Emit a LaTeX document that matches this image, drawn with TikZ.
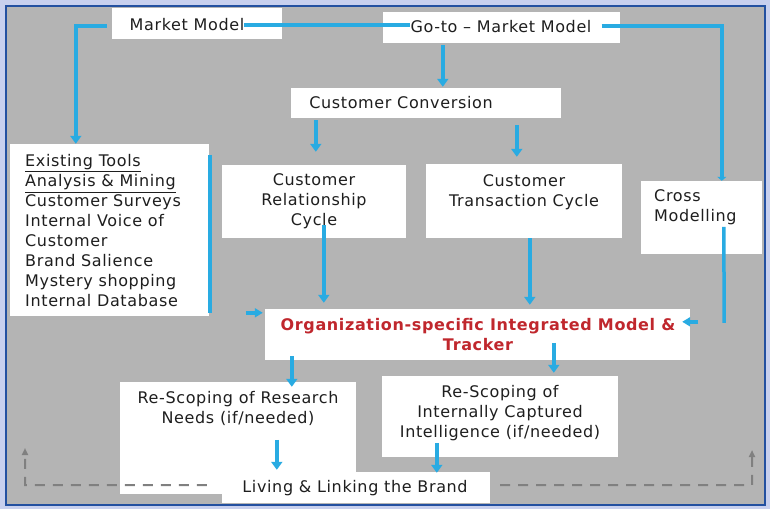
\documentclass[tikz,border=0pt]{standalone}
\usepackage{fontspec}
\setmainfont{DejaVu Sans}[LetterSpace=4]
\usetikzlibrary{arrows.meta,calc}
\definecolor{bgblue}{RGB}{200,208,238}
\definecolor{frameblue}{RGB}{35,80,160}
\definecolor{panelgray}{RGB}{180,180,180}
\definecolor{flow}{RGB}{41,171,226}
\definecolor{orgred}{RGB}{192,39,45}
\definecolor{txt}{RGB}{30,30,30}
\definecolor{dashgray}{RGB}{128,128,128}
\begin{document}
\begin{tikzpicture}[x=1pt,y=-1pt,
  box/.style={fill=white, draw=none, inner sep=0pt},
  lbl/.style={text=txt, inner sep=0pt, font=\fontsize{16}{20}\selectfont},
  flowline/.style={draw=flow, line width=3.5pt},
  flowarrow/.style={flowline, -{Triangle[width=11pt,length=8pt]}},
  smallarrow/.style={flowline, -{Triangle[width=9pt,length=8pt]}},
  back/.style={draw=dashgray, line width=2pt, dash pattern=on 10pt off 8pt},
  backtip/.style={-{Triangle[width=6pt,length=7pt]}},
]
% background and frame
\fill[bgblue] (0,0) rectangle (770,509);
\filldraw[fill=panelgray, draw=frameblue, line width=2.5pt] (6,6) rectangle (765,505);
\useasboundingbox (0,0) rectangle (770,509);

% boxes
\node[box, minimum width=170pt, minimum height=31pt] (mm)  at (197,23.5) {};
\node[box, minimum width=237pt, minimum height=31pt] (gtm) at (501.5,27.5) {};
\node[box, minimum width=270pt, minimum height=30pt] (cc)  at (426,103) {};
\node[box, minimum width=199pt, minimum height=172pt] (et) at (109.5,230) {};
\node[box, minimum width=184pt, minimum height=73pt] (crc) at (314,201.5) {};
\node[box, minimum width=196pt, minimum height=74pt] (ctc) at (524,201) {};
\node[box, minimum width=121pt, minimum height=73pt] (cm)  at (701.5,217.5) {};
\node[box, minimum width=425pt, minimum height=51pt] (org) at (477.5,334.5) {};
\node[box, minimum width=236pt, minimum height=112pt] (rsr) at (238,438) {};
\node[box, minimum width=236pt, minimum height=81pt] (rsi) at (500,416.5) {};
\node[box, minimum width=268pt, minimum height=31pt] (llb) at (356,487.5) {};

% texts
\node[lbl] (mmt)  at (187,25) {Market Model};
\node[lbl] (gtmt) at (501,27) {Go-to -- Market Model};
\node[lbl] (cct)  at (401,103) {Customer Conversion};
\node[lbl, align=left, anchor=west] (ett) at (25,231) {\underline{Existing Tools}\\\underline{Analysis \& Mining}\\Customer Surveys\\Internal Voice of\\Customer\\Brand Salience\\Mystery shopping\\Internal Database};
\node[lbl, align=center] (crct) at (314,201) {Customer\\Relationship\\Cycle};
\node[lbl, align=center] (ctct) at (524,192) {Customer\\Transaction Cycle};
\node[lbl, align=left, anchor=west] (cmt) at (654,207) {Cross\\Modelling};
\node[lbl, align=center, text=orgred, font=\fontsize{16}{20}\selectfont\bfseries] (orgt) at (478,335) {Organization-specific Integrated Model \&\\Tracker};
\node[lbl, align=center] (rsrt) at (238,408) {Re-Scoping of Research\\Needs (if/needed)};
\node[lbl, align=center] (rsit) at (500,413) {Re-Scoping of\\Internally Captured\\Intelligence (if/needed)};
\node[lbl] (llbt) at (355,488) {Living \& Linking the Brand};

% blue connectors
\draw[flowarrow] ($(mm.west)+(-5,2.5)$) -| ($(et.north west)+(66,0)$);
\draw[flowline] (mmt.east) -- (mmt.east -| gtmt.west);
\draw[flowline, -{Triangle[width=9pt,length=4pt]}] ($(gtmt.east)+(10,-1)$) -| ($(cm.north west)+(81,0)$);
\draw[flowarrow] ($(gtm.south west)+(60,2)$) -- ($(cc.north west)+(152,-1)$);
\draw[flowarrow] ($(cc.south west)+(25,2)$) -- ($(crc.north west)+(94,-13)$);
\draw[flowarrow] ($(cc.south west)+(226,7)$) -- ($(ctc.north west)+(91,-7)$);
\draw[flowarrow] ($(crc.south west)+(102,-13)$) -- ($(org.north west)+(59,-6)$);
\draw[flowarrow] ($(ctc.south west)+(104,0)$) -- ($(org.north west)+(265,-4)$);
\draw[flowline] ($(et.north east)+(1,11)$) -- ($(et.south east)+(1,-3)$);
\draw[smallarrow] ($(org.north west)+(-19,4)$) -- ($(org.north west)+(-2,4)$);
\draw[flowline] ($(cm.north west)+(83,46)$) -- ($(org.north east)+(34,14)$);
\draw[smallarrow] ($(org.north east)+(8,13)$) -- ($(org.north east)+(-8,13)$);
\draw[flowarrow] ($(org.south west)+(27,-4)$) -- ($(rsr.north west)+(172,5)$);
\draw[flowarrow] ($(org.north west)+(289,34)$) -- ($(rsi.north west)+(172,-3)$);
\draw[flowarrow] ($(rsr.north west)+(157,58)$) -- ($(llb.north west)+(55,-2)$);
\draw[flowarrow] ($(rsi.south west)+(55,-14)$) -- ($(llb.north west)+(215,1)$);

% gray dashed feedback lines
\coordinate (bl) at (25,485);
\coordinate (blt) at (25,448);
\coordinate (br) at (752,485);
\coordinate (brt) at (752,450);
\draw[back, backtip] ($(llb.south west)+(-15,-18)$) -- (bl) -- (blt);
\draw[back, backtip] ($(llb.south east)+(10,-18)$) -- (br) -- (brt);
\end{tikzpicture}
\end{document}
